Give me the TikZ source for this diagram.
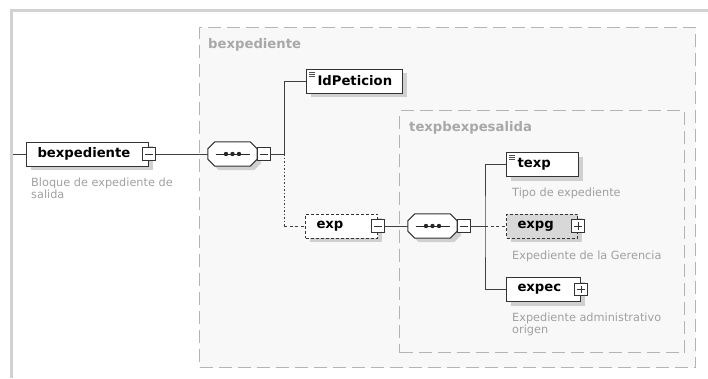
\documentclass[tikz,border=0pt]{standalone}
\usepackage{fontspec}
\setmainfont{DejaVu Sans}
\usetikzlibrary{shadows,calc}
\definecolor{frameColor}{HTML}{D2D2D2}
\definecolor{grpColor}{HTML}{F8F8F8}
\definecolor{grpLine}{HTML}{B4B4B4}
\definecolor{grpText}{HTML}{A8A8A8}
\definecolor{docColor}{HTML}{A0A0A0}
\definecolor{optColor}{HTML}{D8D8D8}
\definecolor{shColor}{HTML}{D0D0D0}
\newcommand{\elemfont}{\fontsize{13.2}{15}\selectfont\bfseries}
\newcommand{\docfont}{\fontsize{11.3}{12}\selectfont}
% octagon round a sequence node, shifted by #2
\newcommand{\octa}[2]{($(#1.north west)+(7+#2,#2)$) -- ($(#1.north east)+(-7+#2,#2)$)
	-- ($(#1.north east)+(#2,7+#2)$) -- ($(#1.south east)+(#2,-7+#2)$)
	-- ($(#1.south east)+(-7+#2,#2)$) -- ($(#1.south west)+(7+#2,#2)$)
	-- ($(#1.south west)+(#2,-7+#2)$) -- ($(#1.north west)+(#2,7+#2)$) -- cycle}
\newcommand{\seqshape}[1]{%
	\fill[shColor] \octa{#1}{4};
	\draw[draw=black!80, fill=white, line width=1pt] \octa{#1}{0};
	\draw[black!85, line width=1pt] ($(#1.center)+(-17,0)$) -- ($(#1.center)+(17,0)$);
	\foreach \k in {-6.5,0,6.5} \fill[black!85] ($(#1.center)+(\k,0)$) circle (2.2);}
\tikzset{
	shad/.style={drop shadow={shadow xshift=4pt,shadow yshift=-4pt,fill=shColor,opacity=1}},
	elem/.style={draw=black!80, line width=1pt, fill=white, anchor=west, minimum height=24pt,
		inner xsep=11pt, inner ysep=0pt, align=left, font=\elemfont, shad},
	optelem/.style={elem, dash pattern=on 3pt off 2pt},
	simple/.style={path picture={\foreach \k in {0,1,2}
			\draw[black!70, line width=0.7pt] ($(path picture bounding box.north west)+(2.5,3+2*\k)$) -- +(6,0);}},
	tog/.style={draw=black!80, line width=0.9pt, fill=white, minimum size=12.5pt, inner sep=0pt,
		path picture={\draw[black!80, line width=0.9pt] ($(path picture bounding box.west)+(2.5,0)$) -- ($(path picture bounding box.east)+(-2.5,0)$);}},
	togplus/.style={tog, path picture={
			\draw[black!80, line width=0.9pt] ($(path picture bounding box.west)+(2.5,0)$) -- ($(path picture bounding box.east)+(-2.5,0)$);
			\draw[black!80, line width=0.9pt] ($(path picture bounding box.north)+(0,2.5)$) -- ($(path picture bounding box.south)+(0,-2.5)$);}},
	seq/.style={rectangle, minimum width=49pt, minimum height=24pt, inner sep=0pt},
	grp/.style={draw=grpLine, fill=grpColor, line width=1.2pt, dash pattern=on 13pt off 6pt,
		anchor=north west, inner sep=0pt},
	grplab/.style={anchor=base west, inner sep=0pt, text=grpText, font=\elemfont},
	doc/.style={anchor=base west, align=left, inner sep=0pt, text=docColor, font=\docfont},
	link/.style={draw=black!75, line width=1pt},
	optlink/.style={link, dash pattern=on 3pt off 2.5pt},
	dotlink/.style={link, dash pattern=on 1.5pt off 2pt}
}
\begin{document}
\begin{tikzpicture}[x=1pt,y=-1pt]
	\useasboundingbox (0,0) rectangle (708,378);
	\draw[frameColor, line width=3pt] (11,378) -- (11,10) -- (708,10);
	
	% groups
	\node[grp, minimum width=496pt, minimum height=340pt] (gbexp) at (199,27) {};
	\node[grplab] (gbexp-lab) at (208,48.5) {bexpediente};
	\node[grp, minimum width=285pt, minimum height=242pt] (gtexp) at (399,110) {};
	\node[grplab] (gtexp-lab) at (409,131) {texpbexpesalida};
	
	% elements
	\node[elem, text width=100pt] (bexp) at (26,154) {bexpediente};
	\node[tog] (bexp-t) at (bexp.east) {};
	\node[doc] (bexp-doc) at (31,198) {Bloque de expediente de\\salida};
	
	\node[seq] (seq1) at (232.5,154) {};
	\seqshape{seq1}
	\node[tog, anchor=west] (seq1-t) at (seq1.east) {};
	
	\node[elem, simple, text width=74pt] (idpet) at (306,81) {IdPeticion};
	\node[optelem, text width=50pt] (exp) at (305,226) {exp};
	\node[tog] (exp-t) at (exp.east) {};
	
	\node[seq] (seq2) at (432.5,226) {};
	\seqshape{seq2}
	\node[tog, anchor=west] (seq2-t) at (seq2.east) {};
	
	\node[elem, simple, text width=50pt] (texp) at (506,164.5) {texp};
	\node[doc] (texp-doc) at (512,196) {Tipo de expediente};
	\node[optelem, fill=optColor, text width=49pt] (expg) at (506,226) {expg};
	\node[togplus] (expg-t) at (expg.east) {};
	\node[doc] (expg-doc) at (512,259) {Expediente de la Gerencia};
	\node[elem, text width=52pt] (expec) at (506,289.5) {expec};
	\node[togplus] (expec-t) at (expec.east) {};
	\node[doc] (expec-doc) at (512,333.5) {Expediente administrativo\\origen};
	
	% connectors
	\coordinate (lead) at (13,154);
	\coordinate (j1) at (284,154);
	\coordinate (j2) at (485,226);
	\draw[link] (lead) -- (bexp);
	\draw[link] (bexp-t) -- (seq1);
	\draw[link] (seq1-t) -- (j1) |- (idpet);
	\draw[dotlink] (j1) -- (j1 |- exp.west);
	\draw[optlink] (j1 |- exp.west) -- (exp);
	\draw[link] (exp-t) -- (seq2);
	\draw[link] (seq2-t) -- (j2);
	\draw[link] (texp) -| (j2) |- (expec);
	\draw[optlink] (j2) -- (expg);
\end{tikzpicture}
\end{document}
